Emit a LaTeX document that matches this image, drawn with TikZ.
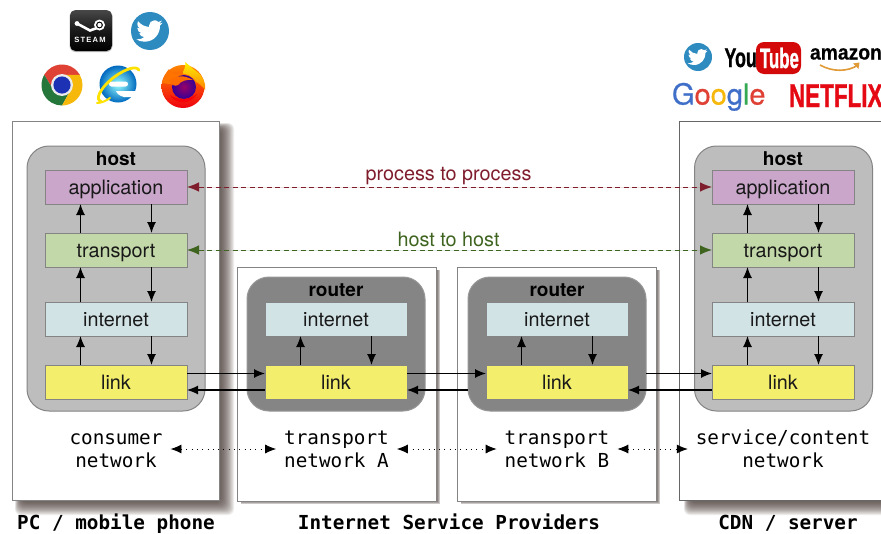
\documentclass[tikz,border=0pt]{standalone}
\usepackage{fontspec}
\usepackage{graphicx}
\setmainfont{TeX Gyre Heros}
\newfontfamily\monof{DejaVu Sans Mono}
\newfontfamily\arialf{Liberation Sans}
\newfontfamily\heavyf[FakeBold=1.2]{Liberation Sans Bold}
\newfontfamily\semif[FakeBold=.5]{Liberation Sans Bold}
\newfontfamily\googf[FakeBold=.6]{TeX Gyre Heros}
\newfontfamily\steamf[LetterSpace=16]{Liberation Sans}
\usetikzlibrary{arrows.meta,calc,shadings}
\definecolor{appc}{HTML}{C9A6CA}
\definecolor{trac}{HTML}{C3D8A8}
\definecolor{intc}{HTML}{D2E3E6}
\definecolor{lnkc}{HTML}{F3EE6C}
\definecolor{hostc}{HTML}{BDBDBD}
\definecolor{routc}{HTML}{858585}
\definecolor{edgec}{HTML}{848484}
\definecolor{procc}{HTML}{7F1D2D}
\definecolor{hostl}{HTML}{3F6420}
\definecolor{shadc}{HTML}{4A3C38}
\definecolor{twit}{HTML}{2E8BC0}
\definecolor{gblue}{HTML}{3F6FC8}
\definecolor{gred}{HTML}{DF4135}
\definecolor{gyel}{HTML}{F6B80A}
\definecolor{ggrn}{HTML}{34A853}
\definecolor{ytred}{HTML}{D40A0A}
\definecolor{nfred}{HTML}{E50914}
\definecolor{amzo}{HTML}{E09A36}
\tikzset{
  every node/.style={inner sep=0pt,outer sep=0pt},
  outerbox/.style={draw=edgec,line width=1pt,fill=white},
  hostbox/.style={draw=edgec,line width=1pt,fill=hostc,rounded corners=22pt},
  routerbox/.style={draw=routc!85!white,line width=1pt,fill=routc,rounded corners=22pt},
  layerbox/.style={draw=edgec,line width=1pt,minimum width=142pt,minimum height=34pt,
    text height=15pt,text depth=1pt,font=\fontsize{19.8}{22}\selectfont,text=black!90},
  boxtitle/.style={font=\fontsize{19}{22}\selectfont\bfseries},
  netlabel/.style={font=\monof\fontsize{19.3}{23}\selectfont,align=center,inner sep=8pt},
  footer/.style={font=\monof\bfseries\fontsize{19.3}{22}\selectfont},
  varrow/.style={-{Latex[length=11pt,width=9pt]},line width=1.2pt},
  harrow/.style={-{Latex[length=11pt,width=9pt]},line width=1.2pt},
  dotarrow/.style={{Latex[length=11pt,width=9pt]}-{Latex[length=11pt,width=9pt]},line width=.9pt,dash pattern=on .9pt off 4.4pt},
  peerarrow/.style={{Latex[length=12pt,width=9.5pt]}-{Latex[length=12pt,width=9.5pt]},line width=.9pt,dash pattern=on 5pt off 3.5pt},
  peerlabel/.style={font=\fontsize{19.8}{22}\selectfont,text height=15pt,text depth=5pt},
}
\newcommand\vpair[2]{%
  \draw[varrow] ([xshift=-35.5pt]#2.north) -- ([xshift=-35.5pt]#1.south);
  \draw[varrow] ([xshift=35.5pt]#1.south) -- ([xshift=35.5pt]#2.north);}
\newcommand\birdpath{(23.95,4.57) .. controls (23.1,4.95) and (22.1,5.2) .. (21.13,5.35)
 .. controls (22.15,4.74) and (22.93,3.77) .. (23.29,2.62)
 .. controls (22.34,3.18) and (21.29,3.58) .. (20.16,3.81)
 .. controls (19.26,2.85) and (17.98,2.25) .. (16.57,2.25)
 .. controls (13.85,2.25) and (11.65,4.45) .. (11.65,7.17)
 .. controls (11.65,7.55) and (11.70,7.93) .. (11.78,8.29)
 .. controls (7.69,8.10) and (4.07,6.13) .. (1.64,3.16)
 .. controls (1.21,3.89) and (0.97,4.74) .. (0.97,5.64)
 .. controls (0.97,7.35) and (1.84,8.85) .. (3.16,9.73)
 .. controls (2.36,9.71) and (1.6,9.49) .. (0.93,9.12)
 -- (0.93,9.18)
 .. controls (0.93,11.56) and (2.63,13.55) .. (4.88,14.0)
 .. controls (4.17,14.2) and (3.4,14.22) .. (2.66,14.09)
 .. controls (3.3,16.04) and (5.1,17.46) .. (7.27,17.5)
 .. controls (5.58,18.83) and (3.45,19.6) .. (1.17,19.6)
 .. controls (0.78,19.6) and (0.39,19.58) .. (0,19.54)
 .. controls (2.19,20.94) and (4.78,21.75) .. (7.56,21.75)
 .. controls (16.61,21.75) and (21.56,14.25) .. (21.56,7.77)
 .. controls (21.56,7.56) and (21.56,7.35) .. (21.54,7.14)
 .. controls (22.5,6.45) and (23.34,5.58) .. (23.95,4.57) -- cycle}
\begin{document}
\begin{tikzpicture}[x=1pt,y=-1pt]
\useasboundingbox (0,0) rectangle (881,533);
\clip (0,0) rectangle (881,533);
\fill[white] (0,0) rectangle (881,533);

% shadows
\foreach \i in {0,...,15}{
  \fill[shadc,opacity=.085,rounded corners=6pt] (15+\i*.4,123+\i*.4) rectangle (234-\i*.85,515-\i*.85);
  \fill[shadc,opacity=.085,rounded corners=6pt] (684+\i*.4,123+\i*.4) rectangle (900,515-\i*.85);
}
\foreach \i in {0,1,2}{
  \fill[shadc,opacity=.28] (241,270) rectangle (440-\i,504-\i);
  \fill[shadc,opacity=.28] (461,270) rectangle (660-\i,504-\i);
}

% outer boxes
\node[outerbox,anchor=north west,minimum width=207pt,minimum height=379pt] (outerL) at (12.5,121) {};
\node[outerbox,anchor=north west,minimum width=199pt,minimum height=234pt] (outerA) at (237.5,267) {};
\node[outerbox,anchor=north west,minimum width=199pt,minimum height=234pt] (outerB) at (457.5,267) {};
\node[outerbox,draw=black!60,anchor=north west,minimum width=230pt,minimum height=379pt] (outerR) at (679.5,121) {};

% host / router containers
\node[hostbox,anchor=north west,minimum width=178pt,minimum height=265pt] (hostL) at (27,146) {};
\node[hostbox,anchor=north west,minimum width=178pt,minimum height=265pt] (hostR) at (694.5,146) {};
\node[routerbox,anchor=north west,minimum width=178pt,minimum height=134pt] (routA) at (247,277) {};
\node[routerbox,anchor=north west,minimum width=178pt,minimum height=134pt] (routB) at (468,277) {};
\node[boxtitle] (tHostL) at (116,159) {host};
\node[boxtitle] (tHostR) at (783,159) {host};
\node[boxtitle] (tRoutA) at (336,290) {router};
\node[boxtitle] (tRoutB) at (557,290) {router};

% layers
\node[layerbox,fill=appc] (appL) at (116,187) {application};
\node[layerbox,fill=trac] (traL) at (116,250) {transport};
\node[layerbox,fill=intc] (intL) at (116,319) {internet};
\node[layerbox,fill=lnkc] (lnkL) at (116,382) {link};
\node[layerbox,fill=intc] (intA) at (336,319) {internet};
\node[layerbox,fill=lnkc] (lnkA) at (336,382) {link};
\node[layerbox,fill=intc] (intB) at (557,319) {internet};
\node[layerbox,fill=lnkc] (lnkB) at (557,382) {link};
\node[layerbox,fill=appc] (appR) at (783,187) {application};
\node[layerbox,fill=trac] (traR) at (783,250) {transport};
\node[layerbox,fill=intc] (intR) at (783,319) {internet};
\node[layerbox,fill=lnkc] (lnkR) at (783,382) {link};

% vertical arrows
\vpair{appL}{traL}\vpair{traL}{intL}\vpair{intL}{lnkL}
\vpair{intA}{lnkA}\vpair{intB}{lnkB}
\vpair{appR}{traR}\vpair{traR}{intR}\vpair{intR}{lnkR}

% link arrows
\draw[harrow] ([yshift=8.5pt]lnkL.east) -- ([yshift=8.5pt]lnkA.west);
\draw[harrow] ([yshift=-8pt]lnkA.west) -- ([yshift=-8pt]lnkL.east);
\draw[harrow] ([yshift=8.5pt]lnkA.east) -- ([yshift=8.5pt]lnkB.west);
\draw[harrow] ([xshift=-18pt,yshift=-8pt]lnkB.west) -- ([yshift=-8pt]lnkA.east);
\draw[harrow] ([xshift=18pt,yshift=8.5pt]lnkB.east) -- ([yshift=8.5pt]lnkR.west);
\draw[harrow] ([yshift=-8pt]lnkR.west) -- ([yshift=-8pt]lnkB.east);

% peer arrows
\draw[peerarrow,draw=procc,fill=procc] (appL.east) -- (appR.west);
\draw[peerarrow,draw=hostl,fill=hostl] (traL.east) -- (traR.west);
\node[peerlabel,text=procc] (lblP) at (448.5,175) {process to process};
\node[peerlabel,text=hostl] (lblH) at (448.5,241) {host to host};

% network labels
\node[netlabel] (nC) at (116,451) {\strut consumer\\\strut network};
\node[netlabel] (nA) at (336.5,451) {\strut transport\\\strut network A};
\node[netlabel] (nB) at (557,451) {\strut transport\\\strut network B};
\node[netlabel] (nS) at (783,451) {\strut service/content\\\strut network};
\draw[dotarrow] ([yshift=2pt]nC.east) -- ([yshift=2pt]nA.west);
\draw[dotarrow] ([yshift=2pt]nA.east) -- ([yshift=2pt]nB.west);
\draw[dotarrow] ([yshift=2pt]nB.east) -- ([yshift=2pt]nS.west);

% footers
\node[footer,anchor=base] (fL) at (116,529.5) {PC / mobile phone};
\node[footer,anchor=base] (fM) at (449,529.5) {Internet Service Providers};
\node[footer,anchor=base] (fR) at (788,529.5) {CDN / server};

% ---- logos ----
% Steam
\fill[black!25,rounded corners=6pt] (69.5,10.5) rectangle (112.5,52);
\shade[top color=black!72,bottom color=black,middle color=black!90,rounded corners=5.5pt] (70,10) rectangle (112,51);
\draw[white,line width=2.6pt,line cap=round] (77,23.5) -- (90,30.5) -- (97,28);
\fill[white] (99.5,25) circle[radius=5.5];
\fill[black] (99.5,25) circle[radius=3.4];
\fill[white] (99.5,25) circle[radius=2.2];
\fill[white] (77,23.5) circle[radius=2.4];
\node[text=white,font=\steamf\bfseries\fontsize{7.6}{8}\selectfont] (steamT) at (90,39.5) {STEAM};

% Twitter
\fill[twit] (150,31) circle[radius=19];
\begin{scope}[shift={(150,31)},scale=1.1,shift={(-12.5,-12)}]
 \fill[white] \birdpath;
\end{scope}
\fill[twit] (698,57) circle[radius=14];
\begin{scope}[shift={(698,57)},scale=.82,shift={(-12.5,-12)}]
 \fill[white] \birdpath;
\end{scope}

% Chrome
\begin{scope}[y=1pt,shift={(62pt,-85pt)}]
 \foreach \a/\c in {30/gred,150/ggrn!70!black,270/gyel}{
   \fill[\c] (\a:20.5) arc[start angle=\a,end angle=\a+120,radius=20.5] -- (\a+180:10) -- (\a+60:10) -- cycle;
 }
 \fill[white!92!black] (0,0) circle[radius=11];
 \fill[blue!45!gblue!80!black] (0,0) circle[radius=8.6];
\end{scope}

% Internet Explorer
\begin{scope}[y=1pt,shift={(118pt,-84pt)}]
 \shade[inner color=cyan!40!white,outer color=cyan!55!blue!75!black] (0,0) circle[radius=18.5];
 \fill[white,rounded corners=2.5pt] (-9,2.5) rectangle (10,-2.5);
 \fill[white] (-2,-7) -- (20,-7) -- (20,-13) -- (6,-13) .. controls (2,-12) and (-1,-10) .. (-2,-7) -- cycle;
 \draw[yellow!85!orange,line width=2.8pt,line cap=round,rotate=38]
   (25,-2) arc[start angle=-5,end angle=195,x radius=25,y radius=9];
 \draw[yellow!85!orange,line width=2pt,line cap=round]
   (-21,-19) .. controls (-17,-19) and (-12,-17) .. (-8,-14);
\end{scope}

% Firefox
\begin{scope}[y=1pt,shift={(183pt,-86pt)}]
 \shade[top color=orange!95!yellow,middle color=orange!85!red,bottom color=red!75!purple] (0,-0.5) circle[radius=21.5];
 \shade[top color=yellow!90!orange,bottom color=orange]
   (0,14) .. controls (2,18) and (3,22) .. (2,24) .. controls (6,21) and (10,17) .. (13,15)
   .. controls (20,10) and (23,4) .. (22,-4) .. controls (16,4) and (8,8) .. (0,8) -- cycle;
 \fill[orange!90!red] (-21,3) .. controls (-20,9) and (-17,13) .. (-14,17) .. controls (-13,13) and (-10,12) .. (-7,12)
   .. controls (-2,13) and (8,13) .. (14,3) -- (0,0) -- cycle;
 \shade[inner color=violet!80!red,outer color=blue!50!violet!80!black] (1,-1) circle[radius=12];
 \fill[orange!85!red] (-14,6) .. controls (-8,10) and (0,12) .. (10,6) .. controls (4,7) and (-2,5) .. (-5,1)
   .. controls (-8,-1) and (-12,1) .. (-14,6) -- cycle;
 \fill[red!85!purple] (-13,-9) .. controls (-7,-14) and (5,-15) .. (14,-8) .. controls (8,-18) and (-6,-20) .. (-13,-9) -- cycle;
\end{scope}

% YouTube
\node[anchor=base west,font=\heavyf\fontsize{27}{27}\selectfont] (ytYou) at (724.5,67)
  {\scalebox{.66}[1]{You}};
\fill[ytred,rounded corners=8pt] (756,42) rectangle (801,74);
\node[anchor=base west,text=white,font=\heavyf\fontsize{28}{28}\selectfont] (ytTube) at (760,68)
  {\scalebox{.6}[1]{Tube}};

% Amazon
\node[anchor=base west,font=\semif\fontsize{21}{21}\selectfont] (amz) at (810,59.5)
  {\scalebox{.92}[1]{amazon}};
\draw[amzo,line width=1.6pt] (820,65) .. controls (832,72) and (848,72) .. (858,65);
\fill[amzo] (853,63.5) -- (859.5,62.5) -- (858.5,69) -- cycle;

% Google
\node[anchor=base west,font=\googf\fontsize{29}{29}\selectfont] (goog) at (672,104.5)
  {\textcolor{gblue}{G}\textcolor{gred}{o}\textcolor{gyel}{o}\textcolor{gblue}{g}\textcolor{ggrn}{l}\textcolor{gred}{e}};

% Netflix
\node[anchor=base west,text=nfred,font=\heavyf\fontsize{33}{33}\selectfont] (nflx) at (789,107)
  {\scalebox{.68}[1]{NETFLIX}};
\end{tikzpicture}
\end{document}
